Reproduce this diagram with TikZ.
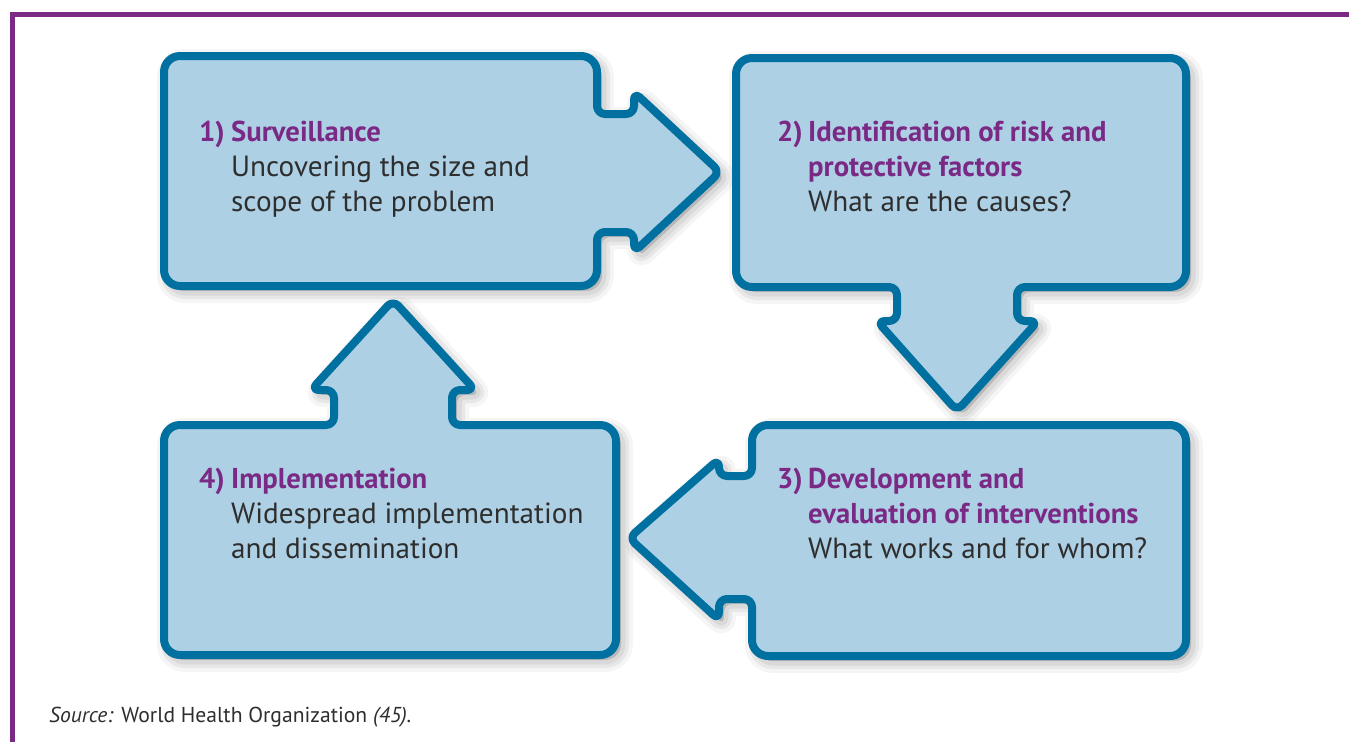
\documentclass[tikz,border=0pt]{standalone}
\usepackage{fontspec}
\setmainfont{PT Sans}
\usetikzlibrary{shadows}

\definecolor{stageblue}{HTML}{0070A0}
\definecolor{stagefill}{HTML}{AED0E4}
\definecolor{whopurple}{HTML}{7A2A85}
\definecolor{bodytext}{HTML}{2E2E2E}

\begin{document}
\begin{tikzpicture}[x = 1pt, y = -1pt,
  stage/.style = {draw = stageblue, fill = stagefill, line width = 8pt,
    rounded corners = 16pt, line join = round,
    drop shadow = {shadow xshift = 5pt, shadow yshift = -5pt, opacity = .04,
      fill = black, draw = black, line width = 24pt, line join = round},
    drop shadow = {shadow xshift = 5pt, shadow yshift = -5pt, opacity = .06,
      fill = black, draw = black, line width = 16pt, line join = round},
    drop shadow = {shadow xshift = 5pt, shadow yshift = -5pt, opacity = .06,
      fill = black, draw = black, line width = 9pt, line join = round}},
  head/.style = {anchor = base west, inner sep = 0pt, text = whopurple,
    font = \fontsize{28.7}{35}\selectfont\bfseries},
  line/.style = {anchor = base west, inner sep = 0pt, text = bodytext,
    font = \fontsize{29.2}{35}\selectfont}]
  \useasboundingbox (0,0) rectangle (1349,742);

  % Frame
  \draw[whopurple, line width = 5pt] (12.5,742) -- (12.5,14.5) -- (1349,14.5);

  % Define shapes
  \draw[stage] (164,56) -- (597,56) [rounded corners = 8pt] -- (597,114)
    -- (634,114) -- (634,92) -- (720,172) -- (634,252) -- (634,232)
    -- (597,232) [rounded corners = 16pt] -- (597,286) -- (164,286) -- cycle;
  \draw[stage] (736,58) -- (1186,58) -- (1186,287) [rounded corners = 8pt]
    -- (1017,287) -- (1017,321) -- (1038,321) -- (957,411) -- (877,321)
    -- (897,321) -- (897,287) [rounded corners = 16pt] -- (736,287) -- cycle;
  \draw[stage] (164,655) -- (164,425) [rounded corners = 8pt] -- (334,425)
    -- (334,390) -- (311,390) -- (393,300) -- (475,390) -- (452,390)
    -- (452,425) [rounded corners = 16pt] -- (616,425) -- (616,655) -- cycle;
  \draw[stage] (752,425) -- (1186,425) -- (1186,656) -- (752,656)
    [rounded corners = 8pt] -- (752,599) -- (719,599) -- (719,620)
    -- (629,538) -- (719,459) -- (719,476) -- (752,476)
    [rounded corners = 16pt] -- cycle;

  % Define nodes
  \node[head] (n1) at (199,141) {1)};
  \node[head] (h1) at (231,141) {Surveillance};
  \node[line] (a1) at (231,176) {Uncovering the size and};
  \node[line] (b1) at (231,211) {scope of the problem};

  \node[head] (n2) at (777,141) {2)};
  \node[head] (h2) at (808,141) {Identification of risk and};
  \node[head] (g2) at (808,176) {protective factors};
  \node[line] (a2) at (808,211) {What are the causes?};

  \node[head] (n3) at (777,488) {3)};
  \node[head] (h3) at (808,488) {Development and};
  \node[head] (g3) at (808,523) {evaluation of interventions};
  \node[line] (a3) at (808,558) {What works and for whom?};

  \node[head] (n4) at (199,488) {4)};
  \node[head] (h4) at (231,488) {Implementation};
  \node[line] (a4) at (231,523) {Widespread implementation};
  \node[line] (b4) at (231,558) {and dissemination};

  \node[anchor = base west, inner sep = 0pt, text = bodytext,
    font = \fontsize{21.6}{26}\selectfont] (src) at (49,722)
    {\textit{Source:} World Health Organization \textit{(45).}};
\end{tikzpicture}
\end{document}
